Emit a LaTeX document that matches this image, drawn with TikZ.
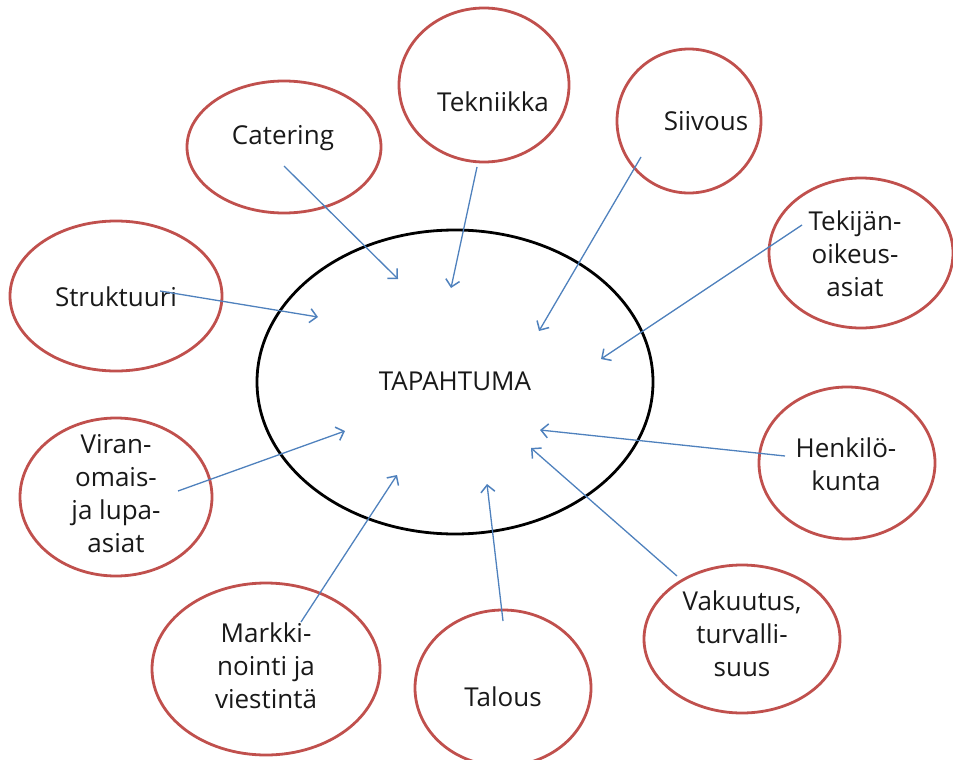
\documentclass[tikz,border=0pt]{standalone}
\usepackage{fontspec}
\setmainfont{Open Sans}
\usetikzlibrary{shapes.geometric,arrows.meta}
\definecolor{ringred}{RGB}{192,80,77}
\definecolor{arrowblue}{RGB}{79,129,189}
\tikzset{
  outer/.style={draw=ringred, line width=2.8pt, ellipse, inner sep=0pt},
  hub/.style={draw=black, line width=2.8pt, ellipse, inner sep=0pt},
  lbl/.style={font={\fontsize{26}{33}\selectfont}, align=center, text=black!90, inner sep=0pt},
  link/.style={draw=arrowblue, line width=1.3pt, -{Straight Barb[length=7pt,width=14pt,line width=1.5pt]}}
}
\begin{document}
\begin{tikzpicture}[x=1pt,y=-1pt]
\useasboundingbox (0,0) rectangle (953,760);
% hub
\node[hub, minimum width=396pt, minimum height=304pt] (hub) at (455,382) {};
\node[lbl] (hubt) at (455,381) {TAPAHTUMA};
% outer ellipses
\node[outer, minimum width=194pt, minimum height=132pt] (cat) at (284,147) {};
\node[outer, minimum width=170pt, minimum height=154pt] (tek) at (484,85) {};
\node[outer, minimum width=144pt, minimum height=144pt] (sii) at (689,121) {};
\node[outer, minimum width=184pt, minimum height=150pt] (toa) at (861,253) {};
\node[outer, minimum width=212pt, minimum height=150pt] (str) at (116,296) {};
\node[outer, minimum width=176pt, minimum height=152pt] (hen) at (847,463) {};
\node[outer, minimum width=192pt, minimum height=158pt] (vir) at (116,497) {};
\node[outer, minimum width=196pt, minimum height=148pt] (vak) at (742,639) {};
\node[outer, minimum width=228pt, minimum height=172pt] (mar) at (266,669) {};
\node[outer, minimum width=176pt, minimum height=156pt] (tal) at (503,688) {};
% labels
\node[lbl] (catt) at (283,138) {Catering};
\node[lbl] (tekt) at (493,102) {Tekniikka};
\node[lbl] (siit) at (706,121) {Siivous};
\node[lbl] (toat) at (855,254) {Tekijän-\\oikeus-\\asiat};
\node[lbl] (strt) at (116,297) {Struktuuri};
\node[lbl] (hent) at (846,464) {Henkilö-\\kunta};
\node[lbl] (virt) at (116,494) {Viran-\\omais-\\ja lupa-\\asiat};
\node[lbl] (vakt) at (742,634) {Vakuutus,\\turvalli-\\suus};
\node[lbl] (mart) at (266,666) {Markki-\\nointi ja\\viestintä};
\node[lbl] (talt) at (503,697) {Talous};
% arrow end points
\coordinate (s1) at (284,166); \coordinate (e1) at (398,279);
\coordinate (s2) at (477,167); \coordinate (e2) at (451,288);
\coordinate (s3) at (641,157); \coordinate (e3) at (539,331);
\coordinate (s4) at (802,225); \coordinate (e4) at (601,359);
\coordinate (s5) at (160,291); \coordinate (e5) at (318,317);
\coordinate (s6) at (785,456); \coordinate (e6) at (540,430);
\coordinate (s7) at (178,491); \coordinate (e7) at (345,431);
\coordinate (s8) at (677,576); \coordinate (e8) at (531,448);
\coordinate (s9) at (301,622); \coordinate (e9) at (397,475);
\coordinate (s10) at (503,621); \coordinate (e10) at (487,484);
\foreach \i in {1,...,10} { \draw[link] (s\i) -- (e\i); }
\end{tikzpicture}
\end{document}
